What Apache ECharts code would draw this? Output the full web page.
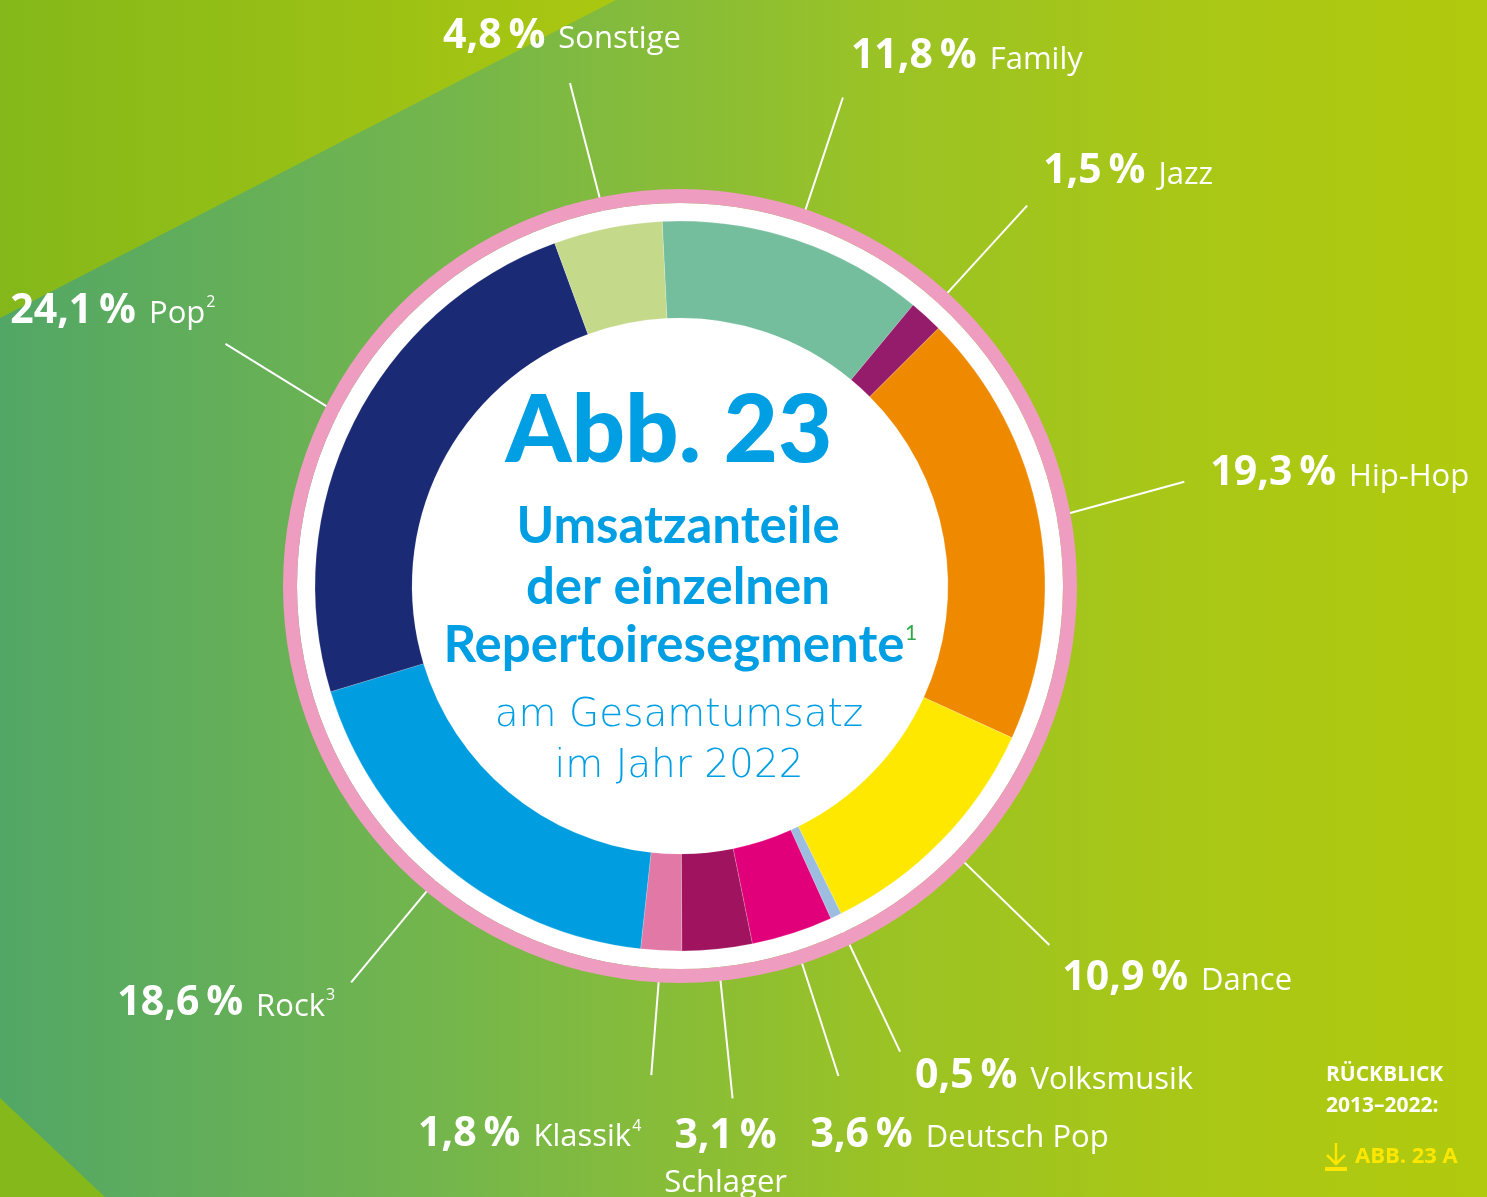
<!DOCTYPE html>
<html>
<head>
<meta charset="utf-8">
<script src="https://cdn.jsdelivr.net/npm/echarts@6/dist/echarts.min.js"></script>
<style>
  html, body { margin: 0; padding: 0; }
  #main { width: 1487px; height: 1197px; }
</style>
</head>
<body>
<div id="main"></div>
<script>
// Umsatzanteile der Repertoiresegmente 2022, im Uhrzeigersinn ab Family
var segments = ['Family', 'Jazz', 'Hip-Hop', 'Dance', 'Volksmusik', 'Deutsch Pop', 'Schlager', 'Klassik', 'Rock', 'Pop', 'Sonstige'];
var shares = [11.8, 1.5, 19.3, 10.9, 0.5, 3.6, 3.1, 1.8, 18.6, 24.1, 4.8];
var footnotes = ['', '', '', '', '', '', '', '4', '3', '2', ''];

var palette = ['#74bd9d', '#951b6b', '#ef8a00', '#ffe800', '#9dbde0', '#e2007a', '#a0145f', '#e278a6', '#009ee0', '#1b2a74', '#c4d98a'];

// label offset from the end of the label line: [dx, dy, align, turn of the line in deg, line end radius]
var labelPlace = {
    'Family': [8, -41, 'left'],
    'Jazz': [16, -34, 'left'],
    'Hip-Hop': [26, -8, 'left', -1.5],
    'Dance': [13, 33, 'left'],
    'Volksmusik': [15, 25, 'left'],
    'Deutsch Pop': [-28, 59, 'left'],
    'Schlager': [-7, 58, 'center'],
    'Klassik': [-10, 59, 'right', 0.4, 490],
    'Rock': [-16, 21, 'right'],
    'Pop': [-10, -33, 'right', 1.5],
    'Sonstige': [-8, -47, 'center', -0.9]
};

var cx = 680, cy = 586;
var blue = '#009fe3';

draw();

function fmt(v) {
    return v.toFixed(1).replace('.', ',') + '\u2009%';
}

function draw() {
    var myChart = echarts.init(document.getElementById('main'));

    var data = [];
    for (var i = 0; i < segments.length; i++) {
        data.push({
            name: segments[i],
            value: shares[i],
            itemStyle: {color: palette[i]}
        });
    }

    var option = {
        animation: false,
        graphic: [
            {
                type: 'rect', z: -10, silent: true,
                shape: {x: 0, y: 0, width: 1487, height: 1197},
                style: {
                    fill: new echarts.graphic.LinearGradient(0, 0, 1, 0, [
                        {offset: 0, color: '#52a766'},
                        {offset: 0.3, color: '#74b64c'},
                        {offset: 0.6, color: '#9bc324'},
                        {offset: 0.8, color: '#a9c716'},
                        {offset: 1, color: '#b1ca0d'}
                    ])
                }
            },
            {
                type: 'polygon', z: -9, silent: true,
                shape: {points: [[0, 0], [616, 0], [0, 318]]},
                style: {
                    fill: new echarts.graphic.LinearGradient(0, 0, 1, 0, [
                        {offset: 0, color: '#84b81a'},
                        {offset: 1, color: '#abc711'}
                    ])
                }
            },
            {
                type: 'polygon', z: -9, silent: true,
                shape: {points: [[0, 1098], [105, 1197], [0, 1197]]},
                style: {fill: '#85b81b'}
            },
            // Mitte
            {
                type: 'text', z: 100, x: 669, y: 432,
                style: {text: 'Abb. 23', fill: blue, font: '900 94px Lato', align: 'center', verticalAlign: 'middle'}
            },
            {
                type: 'text', z: 100, x: 678, y: 527,
                style: {text: 'Umsatzanteile', fill: blue, font: 'bold 51px Lato', align: 'center', verticalAlign: 'middle'}
            },
            {
                type: 'text', z: 100, x: 678, y: 588,
                style: {text: 'der einzelnen', fill: blue, font: 'bold 51px Lato', align: 'center', verticalAlign: 'middle'}
            },
            {
                type: 'text', z: 100, x: 674, y: 646,
                style: {text: 'Repertoiresegmente', fill: blue, font: 'bold 51px Lato', align: 'center', verticalAlign: 'middle'}
            },
            {
                type: 'text', z: 100, x: 905, y: 633,
                style: {text: '1', fill: '#2ea84a', font: '21px Lato', align: 'left', verticalAlign: 'middle'}
            },
            {
                type: 'text', z: 100, x: 679, y: 716,
                style: {text: 'am Gesamtumsatz', fill: blue, font: '200 39px "DejaVu Sans"', align: 'center', verticalAlign: 'middle'}
            },
            {
                type: 'text', z: 100, x: 679, y: 767,
                style: {text: 'im Jahr 2022', fill: blue, font: '200 39px "DejaVu Sans"', align: 'center', verticalAlign: 'middle'}
            },
            // Rückblick
            {
                type: 'text', z: 100, x: 1326, y: 1075,
                style: {text: 'RÜCKBLICK', fill: '#fff', font: 'bold 21px "Open Sans"', align: 'left', verticalAlign: 'middle'}
            },
            {
                type: 'text', z: 100, x: 1326, y: 1106,
                style: {text: '2013–2022:', fill: '#fff', font: 'bold 21px "Open Sans"', align: 'left', verticalAlign: 'middle'}
            },
            {
                type: 'text', z: 100, x: 1355, y: 1157,
                style: {text: 'ABB. 23 A', fill: '#ffe600', font: 'bold 22px "Open Sans"', align: 'left', verticalAlign: 'middle'}
            },
            {
                type: 'polyline', z: 100,
                shape: {points: [[1336, 1143], [1336, 1164]]},
                style: {stroke: '#ffe600', lineWidth: 2.5, fill: null}
            },
            {
                type: 'polyline', z: 100,
                shape: {points: [[1327, 1155], [1336, 1164], [1345, 1155]]},
                style: {stroke: '#ffe600', lineWidth: 2.5, fill: null}
            },
            {
                type: 'rect', z: 100,
                shape: {x: 1325, y: 1167, width: 22, height: 4},
                style: {fill: '#ffe600'}
            }
        ],
        series: [
            {
                type: 'pie',
                center: [cx, cy],
                radius: [0, 383],
                silent: true,
                z: 1,
                label: {show: false},
                labelLine: {show: false},
                data: [{value: 1, itemStyle: {color: '#ffffff'}}]
            },
            {
                name: 'Umsatzanteile',
                type: 'pie',
                center: [cx, cy],
                radius: [268, 365],
                startAngle: 92.8,
                clockwise: true,
                avoidLabelOverlap: false,
                silent: true,
                z: 2,
                itemStyle: {borderColor: 'rgba(255,255,255,0.35)', borderWidth: 0.5},
                label: {
                    show: true,
                    position: 'outside',
                    color: '#fff',
                    formatter: function (p) {
                        var i = p.dataIndex;
                        var name = segments[i];
                        if (footnotes[i]) {
                            name = '{n|' + name + '}{s|' + footnotes[i] + '}';
                        } else {
                            name = '{n|' + name + '}';
                        }
                        if (segments[i] == 'Schlager') {
                            return '{p|' + fmt(shares[i]) + '}\n' + name;
                        }
                        return '{p|' + fmt(shares[i]) + '}{g|}' + name;
                    },
                    rich: {
                        p: {fontFamily: 'Open Sans', fontWeight: 'bold', fontSize: 41, color: '#fff', lineHeight: 46},
                        g: {width: 13, height: 10},
                        n: {fontFamily: 'Open Sans', fontSize: 31, color: '#fff', padding: [7, 0, 0, 0], lineHeight: 40},
                        s: {fontFamily: 'Open Sans', fontSize: 16, color: '#fff', padding: [0, 0, 16, 1]}
                    }
                },
                labelLine: {
                    show: true,
                    length: 150,
                    length2: 0,
                    lineStyle: {color: '#fff', width: 2}
                },
                labelLayout: function (params) {
                    var name = segments[params.dataIndex];
                    var o = labelPlace[name];
                    var pts = params.labelLinePoints;
                    var start = pts[0];
                    var end = pts[1];
                    if (o[3] || o[4]) {
                        var a = Math.atan2(end[1] - cy, end[0] - cx) + (o[3] || 0) * Math.PI / 180;
                        var r = o[4] || Math.sqrt(Math.pow(end[0] - cx, 2) + Math.pow(end[1] - cy, 2));
                        end = [cx + r * Math.cos(a), cy + r * Math.sin(a)];
                    }
                    return {
                        x: end[0] + o[0],
                        y: end[1] + o[1],
                        align: o[2],
                        verticalAlign: 'middle',
                        labelLinePoints: [start, end]
                    };
                },
                data: data
            },
            {
                type: 'pie',
                center: [cx, cy],
                radius: [383, 397],
                silent: true,
                z: 3,
                label: {show: false},
                labelLine: {show: false},
                data: [{value: 1, itemStyle: {color: '#ef9cc1'}}]
            }
        ]
    };

    myChart.setOption(option);
}
</script>
</body>
</html>
